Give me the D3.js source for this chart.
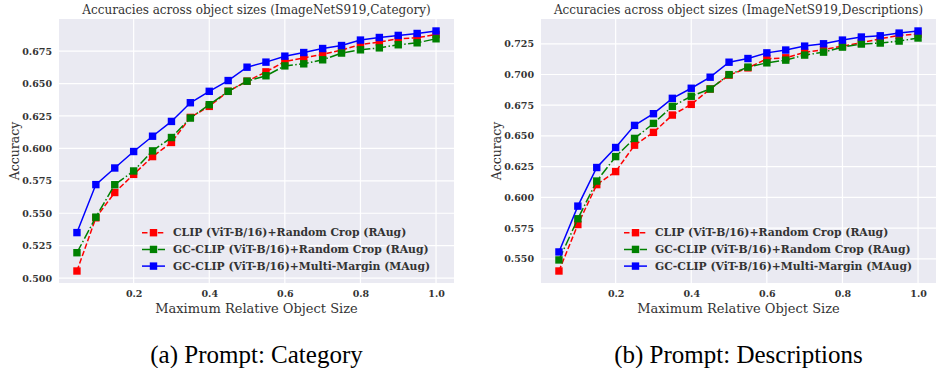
<!DOCTYPE html>
<html>
<head>
<meta charset="utf-8">
<script src="https://cdn.jsdelivr.net/npm/d3@7"></script>
<style>
	body { margin: 0; background: #fff; }
	svg { display: block; }
</style>
</head>
<body>
<svg id="chart"></svg>
<script>
// object size buckets (x)
const sizes = [0.05, 0.1, 0.15, 0.2, 0.25, 0.3, 0.35, 0.4, 0.45, 0.5,
	0.55, 0.6, 0.65, 0.7, 0.75, 0.8, 0.85, 0.9, 0.95, 1.0]

// (a) Prompt: Category
const catClip = [0.5055, 0.5465, 0.566, 0.580, 0.5937, 0.6046, 0.6239, 0.6324, 0.644, 0.6518,
	0.6590, 0.6670, 0.6698, 0.6724, 0.6758, 0.6801, 0.6820, 0.6845, 0.6853, 0.6878]
const catGcRaug = [0.5196, 0.5470, 0.5720, 0.5826, 0.5981, 0.6084, 0.6234, 0.6337, 0.644, 0.6518,
	0.6560, 0.6636, 0.6652, 0.6683, 0.6735, 0.6760, 0.6775, 0.6799, 0.6814, 0.6845]
const catGcMaug = [0.5351, 0.5721, 0.5849, 0.5976, 0.6094, 0.6208, 0.6352, 0.6440, 0.6523, 0.6626,
	0.6665, 0.6711, 0.6739, 0.6770, 0.6793, 0.6835, 0.6855, 0.6871, 0.6886, 0.6905]

// (b) Prompt: Descriptions
const descClip = [0.5401, 0.5779, 0.6104, 0.6210, 0.6425, 0.6529, 0.6670, 0.6757, 0.6882, 0.6995,
	0.7054, 0.7127, 0.7136, 0.7180, 0.7203, 0.7231, 0.7258, 0.7291, 0.7318, 0.7329]
const descGcRaug = [0.5491, 0.5826, 0.6133, 0.6332, 0.6480, 0.6602, 0.6741, 0.6823, 0.6882, 0.6999,
	0.7060, 0.7095, 0.7117, 0.7158, 0.7182, 0.7223, 0.7248, 0.7256, 0.7272, 0.7297]
const descGcMaug = [0.5556, 0.5929, 0.6243, 0.6406, 0.6586, 0.6681, 0.6806, 0.6888, 0.6978, 0.7100,
	0.7130, 0.7176, 0.7199, 0.7231, 0.7250, 0.7280, 0.7305, 0.7315, 0.7337, 0.7354]

const xTicks = [0.2, 0.4, 0.6, 0.8, 1.0]
const yTicksCat = [0.500, 0.525, 0.550, 0.575, 0.600, 0.625, 0.650, 0.675]
const yTicksDesc = [0.550, 0.575, 0.600, 0.625, 0.650, 0.675, 0.700, 0.725]

const seriesNames = [
	"CLIP (ViT-B/16)+Random Crop (RAug)",
	"GC-CLIP (ViT-B/16)+Random Crop (RAug)",
	"GC-CLIP (ViT-B/16)+Multi-Margin (MAug)",
]
const seriesColors = ["#ff0000", "#008000", "#0000ff"]
const seriesDash = ["5.5,2.4", "9.6,2.4,1.5,2.4", null]

const width = 941
const height = 368

const panels = [
	{
		left: 59, top: 19, w: 395, h: 264,
		title: "Accuracies across object sizes (ImageNetS919,Category)",
		caption: "(a) Prompt: Category",
		series: [catClip, catGcRaug, catGcMaug],
		yTicks: yTicksCat,
	},
	{
		left: 541, top: 19, w: 395, h: 264,
		title: "Accuracies across object sizes (ImageNetS919,Descriptions)",
		caption: "(b) Prompt: Descriptions",
		series: [descClip, descGcRaug, descGcMaug],
		yTicks: yTicksDesc,
	},
]

const svg = d3.select("#chart")
	.attr("width", width)
	.attr("height", height)

const serif = "'DejaVu Serif', serif"
const textColor = "#333"

// matplotlib-like 5% margins around the data range
function padded(ext) {
	const pad = (ext[1] - ext[0]) * 0.05
	return [ext[0] - pad, ext[1] + pad]
}

panels.forEach(p => {
	const g = svg.append("g")
		.attr("transform", "translate(" + p.left + "," + p.top + ")")

	const x = d3.scaleLinear()
		.domain(padded(d3.extent(sizes)))
		.range([0, p.w])
	const y = d3.scaleLinear()
		.domain(padded(d3.extent(p.series.flat())))
		.range([p.h, 0])

	g.append("rect")
		.attr("width", p.w)
		.attr("height", p.h)
		.attr("fill", "#eaeaf2")

	// grid
	g.append("g").selectAll("line")
		.data(xTicks)
		.join("line")
		.attr("x1", d => x(d)).attr("x2", d => x(d))
		.attr("y1", 0).attr("y2", p.h)
		.attr("stroke", "#fff")
		.attr("stroke-width", 1.2)
	g.append("g").selectAll("line")
		.data(p.yTicks)
		.join("line")
		.attr("x1", 0).attr("x2", p.w)
		.attr("y1", d => y(d)).attr("y2", d => y(d))
		.attr("stroke", "#fff")
		.attr("stroke-width", 1.2)

	// axes (labels only)
	const xAxis = g.append("g")
		.attr("transform", "translate(0," + p.h + ")")
		.call(d3.axisBottom(x).tickValues(xTicks).tickFormat(d3.format(".1f")).tickSize(0).tickPadding(7))
	const yAxis = g.append("g")
		.call(d3.axisLeft(y).tickValues(p.yTicks).tickFormat(d3.format(".3f")).tickSize(0).tickPadding(7))
	;[xAxis, yAxis].forEach(a => {
		a.select(".domain").remove()
		a.selectAll("text")
			.attr("fill", textColor)
			.style("font-family", serif)
			.style("font-weight", "bold")
			.style("font-size", "9.5px")
	})

	// lines + markers
	p.series.forEach((vals, i) => {
		const pts = sizes.map((s, j) => ({ s: s, v: vals[j] }))
		const line = d3.line()
			.x(d => x(d.s))
			.y(d => y(d.v))
		g.append("path")
			.datum(pts)
			.attr("fill", "none")
			.attr("stroke", seriesColors[i])
			.attr("stroke-width", 1.5)
			.attr("stroke-dasharray", seriesDash[i])
			.attr("d", line)
		g.append("g").selectAll("rect")
			.data(pts)
			.join("rect")
			.attr("x", d => x(d.s) - 3.7)
			.attr("y", d => y(d.v) - 3.7)
			.attr("width", 7.4)
			.attr("height", 7.4)
			.attr("fill", seriesColors[i])
	})

	// legend, lower right inside the plot
	seriesNames.forEach((name, i) => {
		const row = g.append("g")
			.attr("transform", "translate(83," + (213.7 + i * 16.7) + ")")
		row.append("line")
			.attr("x1", 0).attr("x2", 23)
			.attr("stroke", seriesColors[i])
			.attr("stroke-width", 1.5)
			.attr("stroke-dasharray", seriesDash[i])
		row.append("rect")
			.attr("x", 7.8).attr("y", -3.7)
			.attr("width", 7.4).attr("height", 7.4)
			.attr("fill", seriesColors[i])
		row.append("text")
			.attr("x", 31)
			.attr("dy", "0.35em")
			.attr("fill", textColor)
			.style("font-family", serif)
			.style("font-weight", "bold")
			.style("font-size", "10.8px")
			.text(name)
	})

	// titles
	g.append("text")
		.attr("x", p.w / 2)
		.attr("y", -5)
		.attr("text-anchor", "middle")
		.attr("fill", textColor)
		.style("font-family", serif)
		.style("font-size", "12px")
		.text(p.title)
	g.append("text")
		.attr("x", p.w / 2)
		.attr("y", p.h + 30)
		.attr("text-anchor", "middle")
		.attr("fill", textColor)
		.style("font-family", serif)
		.style("font-size", "13px")
		.text("Maximum Relative Object Size")
	g.append("text")
		.attr("transform", "translate(-40," + (p.h / 2) + ") rotate(-90)")
		.attr("text-anchor", "middle")
		.attr("fill", textColor)
		.style("font-family", serif)
		.style("font-size", "12.5px")
		.text("Accuracy")
	g.append("text")
		.attr("x", p.w / 2)
		.attr("y", p.h + 80)
		.attr("text-anchor", "middle")
		.attr("fill", "#000")
		.style("font-family", "'Liberation Serif', 'Times New Roman', Times, serif")
		.style("font-size", "25px")
		.text(p.caption)
})
</script>
</body>
</html>
